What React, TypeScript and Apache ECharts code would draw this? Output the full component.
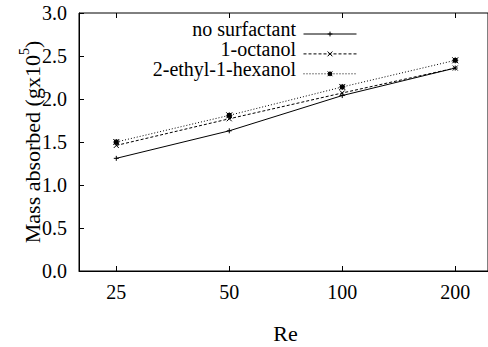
import React, { useEffect, useRef } from "react";
import * as echarts from "echarts";

// Reynolds numbers on the x axis (evenly spaced, doubling each step)
const reynolds = ["25", "50", "100", "200"];
const seriesNames = ["no surfactant", "1-octanol", "2-ethyl-1-hexanol"];
const noSurfactant = [1.31, 1.63, 2.04, 2.36];
const octanol = [1.46, 1.77, 2.07, 2.36];
const ethylHexanol = [1.5, 1.81, 2.14, 2.45];
const yTicks = [0, 0.5, 1, 1.5, 2, 2.5, 3];

const FAMILY = "Liberation Serif";
const font = (px: number) => `${px}px ${FAMILY}`;

const plusSymbol = "path://M0,5L10,5M5,0L5,10";
const crossSymbol = "path://M0,0L10,10M10,0L0,10";
const starSymbol = "path://M0,0L10,10M10,0L0,10M0,5L10,5M5,0L5,10M2,2L8,2L8,8L2,8Z";

const toPoints = (vals: number[]) => vals.map((v, i) => [i, v]);

function textWidth(str: string, px: number) {
  const ctx = document.createElement("canvas").getContext("2d");
  if (!ctx) return str.length * px * 0.5;
  ctx.font = font(px);
  return ctx.measureText(str).width;
}

export default function App() {
  const ref = useRef<HTMLDivElement>(null);

  useEffect(() => {
    if (!ref.current) return;
    const chart = echarts.init(ref.current, undefined, { renderer: "svg" });
    const tickIdx = reynolds.map((_, i) => i);
    const mkSeries = (name: string, vals: number[], dash: number[] | string, symbol: string, size: number) => ({
      name,
      type: "line",
      data: toPoints(vals),
      symbol,
      symbolSize: size,
      showSymbol: true,
      lineStyle: { color: "#000", width: 1, type: dash },
      itemStyle: { color: "#000", borderColor: "#000", borderWidth: 1 },
    });
    chart.setOption({
      animation: false,
      backgroundColor: "#fff",
      grid: { left: 79, right: -2, top: 13, bottom: 76, show: true, borderColor: "#000", borderWidth: 1 },
      legend: {
        orient: "vertical",
        align: "right",
        right: 126,
        top: 26,
        itemWidth: 53,
        itemHeight: 6,
        itemGap: 14,
        itemStyle: { borderWidth: 1 },
        lineStyle: { width: 1 },
        formatter: () => "",
        textStyle: { fontSize: 1, color: "#000" },
        data: seriesNames,
      },
      xAxis: [
        {
          type: "value",
          min: -0.33,
          max: 3.29,
          splitLine: { show: false },
          axisLine: { show: true, onZero: false, lineStyle: { color: "#000", width: 1 } },
          axisTick: { show: true, inside: true, length: 5, customValues: tickIdx, lineStyle: { color: "#000" } },
          axisLabel: { show: false },
        },
        {
          type: "value",
          position: "top",
          min: -0.33,
          max: 3.29,
          splitLine: { show: false },
          axisLine: { show: false, onZero: false },
          axisTick: { show: true, inside: true, length: 5, customValues: tickIdx, lineStyle: { color: "#000" } },
          axisLabel: { show: false },
        },
      ],
      yAxis: {
        type: "value",
        min: 0,
        max: 3,
        interval: 0.5,
        splitLine: { show: false },
        axisLine: { show: true, onZero: false, lineStyle: { color: "#000", width: 1 } },
        axisTick: { show: true, inside: true, length: 5, lineStyle: { color: "#000" } },
        axisLabel: { show: false },
      },
      series: [
        mkSeries(seriesNames[0], noSurfactant, "solid", plusSymbol, 5),
        mkSeries(seriesNames[1], octanol, [3, 2], crossSymbol, 5),
        mkSeries(seriesNames[2], ethylHexanol, [1, 2], starSymbol, 6),
      ],
    });

    // Tick labels, axis titles and legend names, placed from the axes' own scales
    const x0 = chart.convertToPixel({ xAxisIndex: 0 }, -0.33) as number;
    const xEnd = chart.convertToPixel({ xAxisIndex: 0 }, 3.29) as number;
    const xAxisY = chart.convertToPixel({ yAxisIndex: 0 }, 0) as number;
    const yMid = chart.convertToPixel({ yAxisIndex: 0 }, 1.5) as number;

    const xLabels = reynolds.map((r, i) => ({
      type: "text",
      x: chart.convertToPixel({ xAxisIndex: 0 }, i) as number,
      y: xAxisY + 21,
      style: { text: r, font: font(20), fill: "#000", align: "center", verticalAlign: "middle" },
    }));
    const yLabels = yTicks.map((v) => ({
      type: "text",
      x: x0 - 12,
      y: chart.convertToPixel({ yAxisIndex: 0 }, v) as number,
      style: { text: v.toFixed(1), font: font(20), fill: "#000", align: "right", verticalAlign: "middle" },
    }));

    const mainName = "Mass absorbed (gx10";
    const wMain = textWidth(mainName, 22);
    const wSup = textWidth("5", 14);
    const wClose = textWidth(")", 22);
    const total = wMain + wSup + wClose;
    const yName = {
      type: "group",
      x: x0 - 47,
      y: yMid,
      rotation: Math.PI / 2,
      children: [
        { type: "text", x: -total / 2, y: 0, style: { text: mainName, font: font(22), fill: "#000", align: "left", verticalAlign: "middle" } },
        { type: "text", x: -total / 2 + wMain, y: -8, style: { text: "5", font: font(14), fill: "#000", align: "left", verticalAlign: "middle" } },
        { type: "text", x: -total / 2 + wMain + wSup, y: 0, style: { text: ")", font: font(22), fill: "#000", align: "left", verticalAlign: "middle" } },
      ],
    };
    const xName = {
      type: "text",
      x: (x0 + xEnd) / 2 + 2,
      y: xAxisY + 62,
      style: { text: "Re", font: font(22), fill: "#000", align: "center", verticalAlign: "middle" },
    };
    const legendTexts = seriesNames.map((n, i) => ({
      type: "text",
      x: 296,
      y: 29 + i * 20,
      style: { text: n, font: font(20), fill: "#000", align: "right", verticalAlign: "middle" },
    }));

    chart.setOption({ graphic: [...xLabels, ...yLabels, yName, xName, ...legendTexts] });
    return () => chart.dispose();
  }, []);

  return (
    <div
      ref={ref}
      style={{ position: "fixed", left: 0, top: 0, width: 488, height: 347, background: "#fff" }}
    />
  );
}
